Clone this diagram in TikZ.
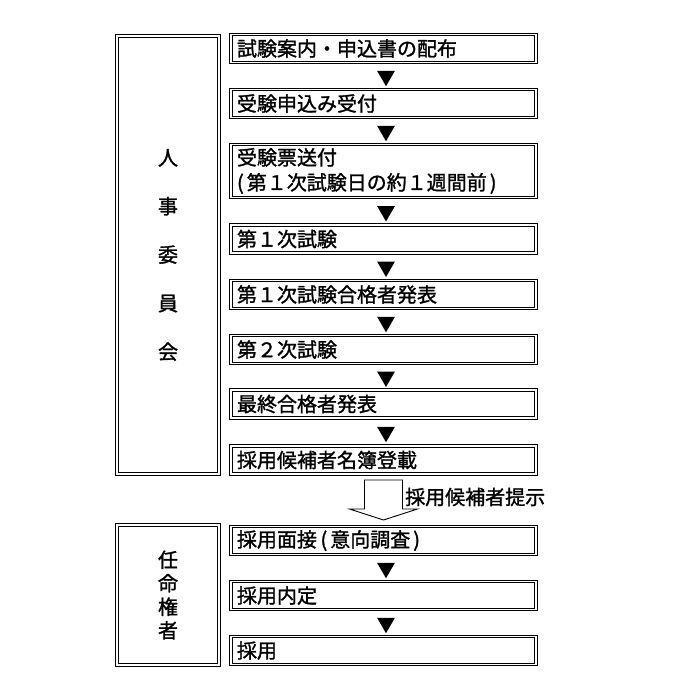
\documentclass[tikz,border=0pt]{standalone}
\usepackage{fontspec}
\setmainfont{Noto Sans CJK JP}[FakeBold=1.4]
\usepackage{tikz}
\usetikzlibrary{shapes.geometric}
\newdimen\boxW
\newdimen\boxH
\setlength{\boxW}{305pt}
\setlength{\boxH}{28pt}
\definecolor{ink}{gray}{0}
\newcommand{\lp}{\kern3.5pt(\kern3pt}
\newcommand{\rp}{\kern3pt)\kern3.5pt}

\tikzset{
  dbl/.style={draw=ink, line width=1.2pt, double=white, double distance=1.5pt},
  stepbox/.style={dbl, minimum width=\boxW, minimum height=\boxH,
    text width=\boxW-12pt, inner xsep=6pt, inner ysep=0pt, align=left,
    font=\fontsize{20}{24}\selectfont},
  sidebox/.style={dbl, minimum width=102pt, inner sep=0pt, align=center},
  tri/.style={fill=ink, regular polygon, regular polygon sides=3,
    shape border rotate=180, minimum size=20.5pt, inner sep=0pt, xshift=2.5pt},
  hollow/.style={draw=ink, line width=0.9pt, fill=white},
}

\begin{document}
\begin{tikzpicture}[x=1pt, y=-1pt]
  \useasboundingbox (0,0) rectangle (700,700);
  % side boxes
  \node[sidebox, minimum height=438pt, font=\fontsize{20}{48.5}\selectfont]
    (jinji) at (168,255) {人\\事\\委\\員\\会};
  \node[sidebox, minimum height=140pt, font=\fontsize{20}{23.5}\selectfont]
    (ninmei) at (168,595) {任\\命\\権\\者};
  % steps
  \node[stepbox] (b1) at (383.5,48.5) {試験案内・申込書の配布};
  \node[stepbox] (b2) at (383.5,103.5) {受験申込み受付};
  \node[stepbox, minimum height=53pt] (b3) at (383.5,171)
    {受験票送付\\\kern1pt(\kern3pt 第１次試験日の約１週間前\rp};
  \node[stepbox] (b4) at (383.5,239) {第１次試験};
  \node[stepbox] (b5) at (383.5,294.5) {第１次試験合格者発表};
  \node[stepbox] (b6) at (383.5,349.5) {第２次試験};
  \node[stepbox] (b7) at (383.5,404) {最終合格者発表};
  \node[stepbox] (b8) at (383.5,460) {採用候補者名簿登載};
  \node[stepbox] (b9) at (383.5,540.5) {採用面接\lp 意向調査\rp};
  \node[stepbox] (b10) at (383.5,595.5) {採用内定};
  \node[stepbox] (b11) at (383.5,650.5) {採用};
  % markers between steps
  \foreach \a/\b in {b1/b2,b2/b3,b3/b4,b4/b5,b5/b6,b6/b7,b7/b8,b9/b10,b10/b11}
    \path (\a.south) -- node[tri] {} (\b.north);
  % hand-over
  \coordinate (ar) at (383.5,480);
  \draw[hollow, shift={(ar)}] (-19,0) -- (19,0) -- (19,29) -- (34,29)
    -- (0,40) -- (-34,29) -- (-19,29) -- cycle;
  \node[anchor=west, inner sep=0pt, font=\fontsize{20}{24}\selectfont]
    (teiji) at (405,497) {採用候補者提示};
\end{tikzpicture}
\end{document}
